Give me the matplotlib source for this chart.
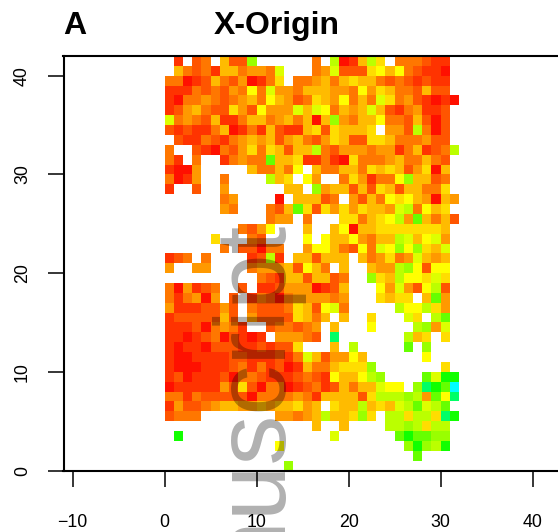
import numpy as np
import matplotlib
matplotlib.use('Agg')
import matplotlib.pyplot as plt
from matplotlib.colors import ListedColormap

W,H=558,532
#hue level of every cell, top row (y=41) first, '.' = no data, x=0..31
rows=[
".1.23.522a......3.901596.333211.",
".532315534438...34822267573211" "0.",
"3301253240136.3345356553232121" "1.",
"111323243738443555443746533252" "2.",
"103343234537542365473538634210" "10",
"124532264274448587354585213411" "2.",
"834325113553453505a43557332520" "2.",
"212113501315211562655" "56.442930" "2.",
".21132134545245324652266533342" "2.",
"3..210324636525593244434413512" "39",
"31.3..13433b556113106333453353" "2.",
"1004.....533537.53355365652460" "5.",
"3014..3....956.74..3641337a552" "3.",
"1..2..4......55.a4552526525533" "6.",
"......34....0.55523.4253767540" "54",
"......43...325b626464655489375" "6.",
"...........344.3...66356794b53" "52",
"........3247...5..570556666666" "5.",
".....6...32....7.7557435598578" "4.",
"......3.22033..4775327387a7a65" "8.",
"123.3....1291.552555.534634854" "5.",
"4..44....344452753.5..5449a727" "7.",
"..........3215525523..a6597768" "6.",
"304123..2.1124440125...7484279" "2.",
"313404.2.13203444434...6566.5b" "4.",
"41112242.32223652783.....97796" "4.",
"12222252.422226535.5..6...86.9" "b.",
"111203431..233234.5...7....9a4" "8.",
"11012302101.44432.d.......956." "6.",
"101102221121226...5.9.....b.a." "..",
"1001111221112138524475......7." "..",
"1000111231312015335666a......." "6.",
"12011120332111232175579a....b8" "cc",
"01111142620330123125355877.adc" "be",
"33132222203333431555526999a94b" "7d",
"14223455445455645.655956589b89" "b.",
"2333........443459556a6.996996" "dc",
"................5..5....99a969" "9.",
".c................8......bcbba" "a.",
"............7.............aca9" "c.",
"...........................b.." "..",
".............a................" "..",
]
level_colors=['#ff1000','#ff3300','#ff5500','#ff7700','#ff9900','#ffbb00','#ffdd00',
              '#ffff00','#ddff00','#bbff00','#99ff00','#66ff00','#11ff00','#00ff66','#00ffff']
xticks=[-10,0,10,20,30,40]
yticks=[0,10,20,30,40]

grid=np.full((42,32),np.nan)
for i,r in enumerate(rows):
    for j,c in enumerate(r[:32]):
        if c!='.':
            grid[41-i,j]=int(c,16)

plt.rcParams['font.family']=['Liberation Sans','DejaVu Sans']
fig=plt.figure(figsize=(W/100,H/100),dpi=100)
ax=fig.add_axes([63.5/W,1-470.5/H,(W-63.5)/W,(470.5-56)/H])
ax.pcolormesh(np.arange(33),np.arange(43),np.ma.masked_invalid(grid),
              cmap=ListedColormap(level_colors),vmin=-0.5,vmax=14.5,antialiased=False)
ax.set_xlim(-11,42.77)
ax.set_ylim(0,42)
ax.spines['right'].set_visible(False)
for s in ['left','top','bottom']:
    ax.spines[s].set_linewidth(1.5)
ax.set_xticks(xticks,[str(t).replace('-','\u2212') for t in xticks])
ax.set_yticks(yticks,[str(t) for t in yticks])
ax.tick_params(axis='x',length=11.5,width=1.1,labelsize=12.8,pad=20)
ax.tick_params(axis='y',length=11.5,width=1.1,labelsize=12.8,pad=12)
for t in ax.get_yticklabels():
    t.set_rotation(90)
    t.set_va('center')

fig.text(63/W,1-34/H,'A',fontsize=23,fontweight='bold',va='baseline')
fig.text(214/W,1-34/H,'X-Origin',fontsize=23,fontweight='bold',va='baseline')

#watermark running up the page
fig.text(286.5/W,1-226/H,'Author Manuscript',fontsize=72,color='black',alpha=0.31,rotation=90,
         rotation_mode='anchor',ha='right',va='baseline',zorder=10)

fig.savefig('out.png',dpi=100)
